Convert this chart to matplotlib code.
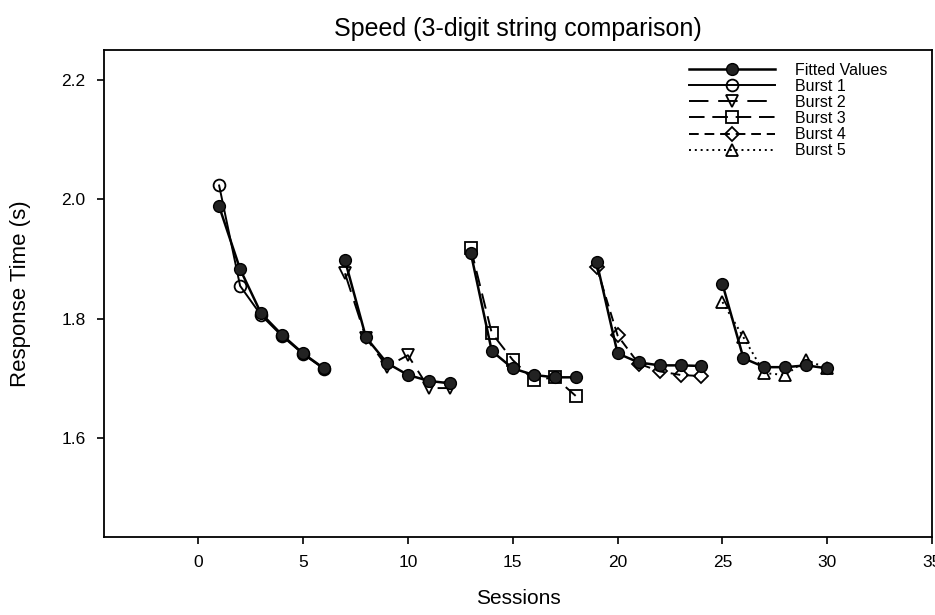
import matplotlib
matplotlib.use('Agg')
import matplotlib.pyplot as plt

# Sessions, five bursts of six sessions each
sessions = [1, 2, 3, 4, 5, 6, 7, 8, 9, 10, 11, 12, 13, 14, 15,
            16, 17, 18, 19, 20, 21, 22, 23, 24, 25, 26, 27, 28, 29, 30]

fitted = [1.988, 1.883, 1.809, 1.773, 1.742, 1.717,
          1.898, 1.769, 1.726, 1.706, 1.696, 1.692,
          1.910, 1.746, 1.717, 1.706, 1.702, 1.702,
          1.895, 1.742, 1.727, 1.722, 1.722, 1.721,
          1.858, 1.734, 1.719, 1.719, 1.722, 1.717]

burst1 = [2.023, 1.855, 1.806, 1.771, 1.741, 1.716]
burst2 = [1.876, 1.768, 1.720, 1.739, 1.684, 1.684]
burst3 = [1.918, 1.776, 1.731, 1.697, 1.702, 1.671]
burst4 = [1.886, 1.772, 1.725, 1.712, 1.706, 1.704]
burst5 = [1.828, 1.769, 1.709, 1.706, 1.731, 1.717]

bursts = [burst1, burst2, burst3, burst4, burst5]
burst_labels = ['Burst 1', 'Burst 2', 'Burst 3', 'Burst 4', 'Burst 5']
burst_markers = ['o', 'v', 's', 'D', '^']
burst_styles = ['-', (0, (10, 5)), (0, (8, 4)), (0, (5, 3)), (0, (1, 2))]

plt.rcParams['font.family'] = ['Liberation Sans', 'DejaVu Sans']

fig = plt.figure(figsize=(9.35, 6.15), dpi=100)
ax = fig.add_axes([0.111, 0.127, 0.886, 0.792])

handles = []
# Bursts, each only over its own six sessions
for i, vals in enumerate(bursts):
    x = sessions[i * 6:(i + 1) * 6]
    ms = 7.5 if burst_markers[i] == 'D' else 8.5
    h, = ax.plot(x, vals, color='black', linestyle=burst_styles[i], linewidth=1.4,
                 marker=burst_markers[i], markersize=ms, markerfacecolor='none',
                 markeredgecolor='black', markeredgewidth=1.3, label=burst_labels[i])
    handles.append(h)

# Fitted values, one line per burst
for i in range(5):
    x = sessions[i * 6:(i + 1) * 6]
    y = fitted[i * 6:(i + 1) * 6]
    hf, = ax.plot(x, y, color='black', linestyle='-', linewidth=1.8, marker='o',
                  markersize=8.5, markerfacecolor='#222222', markeredgecolor='black',
                  label='Fitted Values', zorder=3)

ax.set_xlim(-4.5, 35)
ax.set_ylim(1.435, 2.25)
ax.set_xticks([0, 5, 10, 15, 20, 25, 30, 35])
ax.set_yticks([1.6, 1.8, 2.0, 2.2])
ax.set_yticklabels(['1.6', '1.8', '2.0', '2.2'])
ax.tick_params(direction='out', length=5, width=1.2, labelsize=12.5, pad=8)
for s in ax.spines.values():
    s.set_linewidth(1.3)

ax.set_xlabel('Sessions', fontsize=15, labelpad=14)
ax.set_ylabel('Response Time (s)', fontsize=16, labelpad=22)
ax.set_title('Speed (3-digit string comparison)', fontsize=18, pad=10)

ax.legend([hf] + handles, ['Fitted Values'] + burst_labels, loc='upper left',
          bbox_to_anchor=(0.697, 0.99), frameon=False, fontsize=11.5,
          handlelength=5.4, handletextpad=1.2, labelspacing=0.07, borderpad=0)

plt.savefig('out.png', dpi=100)
